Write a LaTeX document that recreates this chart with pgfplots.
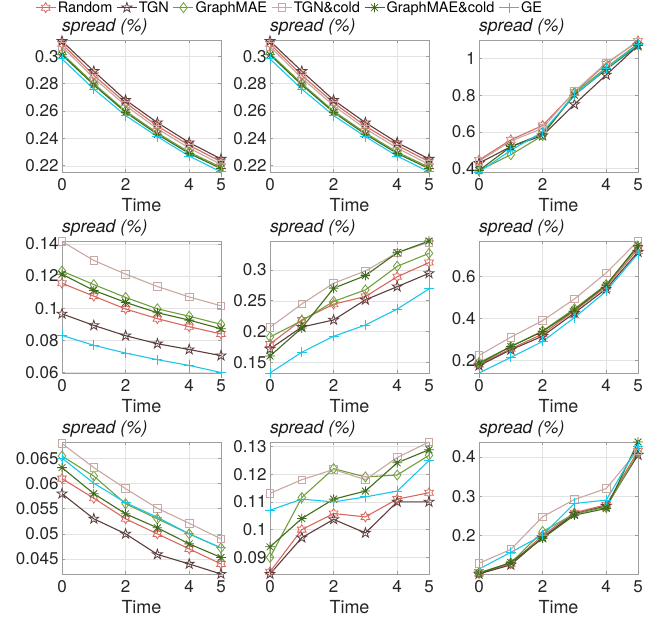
\documentclass[border=0pt]{standalone}
\usepackage{fontspec}
\setmainfont{TeX Gyre Heros}
\usepackage{pgfplots}
\pgfplotsset{compat=1.18}
\usepackage{pgfplotstable}

\definecolor{cR}{RGB}{217,105,95}
\definecolor{cT}{RGB}{92,62,62}
\definecolor{cG}{RGB}{112,160,60}
\definecolor{cTC}{RGB}{200,168,163}
\definecolor{cGC}{RGB}{62,108,25}
\definecolor{cGE}{RGB}{25,200,232}

\pgfdeclareplotmark{hexagram}{%
 \pgfpathmoveto{\pgfpointpolar{90}{\pgfplotmarksize}}%
 \pgfpathlineto{\pgfpointpolar{120}{0.577\pgfplotmarksize}}%
 \pgfpathlineto{\pgfpointpolar{150}{\pgfplotmarksize}}%
 \pgfpathlineto{\pgfpointpolar{180}{0.577\pgfplotmarksize}}%
 \pgfpathlineto{\pgfpointpolar{210}{\pgfplotmarksize}}%
 \pgfpathlineto{\pgfpointpolar{240}{0.577\pgfplotmarksize}}%
 \pgfpathlineto{\pgfpointpolar{270}{\pgfplotmarksize}}%
 \pgfpathlineto{\pgfpointpolar{300}{0.577\pgfplotmarksize}}%
 \pgfpathlineto{\pgfpointpolar{330}{\pgfplotmarksize}}%
 \pgfpathlineto{\pgfpointpolar{0}{0.577\pgfplotmarksize}}%
 \pgfpathlineto{\pgfpointpolar{30}{\pgfplotmarksize}}%
 \pgfpathlineto{\pgfpointpolar{60}{0.577\pgfplotmarksize}}%
 \pgfpathclose\pgfusepathqstroke}
\pgfdeclareplotmark{pentagram}{%
 \pgfpathmoveto{\pgfpointpolar{90}{\pgfplotmarksize}}%
 \pgfpathlineto{\pgfpointpolar{126}{0.382\pgfplotmarksize}}%
 \pgfpathlineto{\pgfpointpolar{162}{\pgfplotmarksize}}%
 \pgfpathlineto{\pgfpointpolar{198}{0.382\pgfplotmarksize}}%
 \pgfpathlineto{\pgfpointpolar{234}{\pgfplotmarksize}}%
 \pgfpathlineto{\pgfpointpolar{270}{0.382\pgfplotmarksize}}%
 \pgfpathlineto{\pgfpointpolar{306}{\pgfplotmarksize}}%
 \pgfpathlineto{\pgfpointpolar{342}{0.382\pgfplotmarksize}}%
 \pgfpathlineto{\pgfpointpolar{18}{\pgfplotmarksize}}%
 \pgfpathlineto{\pgfpointpolar{54}{0.382\pgfplotmarksize}}%
 \pgfpathclose\pgfusepathqstroke}
\pgfdeclareplotmark{asteight}{%
 \pgfpathmoveto{\pgfpointpolar{0}{\pgfplotmarksize}}\pgfpathlineto{\pgfpointpolar{180}{\pgfplotmarksize}}%
 \pgfpathmoveto{\pgfpointpolar{45}{\pgfplotmarksize}}\pgfpathlineto{\pgfpointpolar{225}{\pgfplotmarksize}}%
 \pgfpathmoveto{\pgfpointpolar{90}{\pgfplotmarksize}}\pgfpathlineto{\pgfpointpolar{270}{\pgfplotmarksize}}%
 \pgfpathmoveto{\pgfpointpolar{135}{\pgfplotmarksize}}\pgfpathlineto{\pgfpointpolar{315}{\pgfplotmarksize}}%
 \pgfusepathqstroke}

\pgfplotsset{
 sR/.style={cR, line width=1.1pt, mark=hexagram, mark size=5pt, mark options={solid, line width=0.8pt}},
 sT/.style={cT, line width=1.1pt, mark=pentagram, mark size=5.2pt, mark options={solid, line width=0.8pt}},
 sG/.style={cG, line width=1.1pt, mark=diamond, mark size=5pt, mark options={solid, line width=0.8pt}},
 sTC/.style={cTC, line width=1.1pt, mark=square, mark size=3.8pt, mark options={solid, line width=0.8pt}},
 sGC/.style={cGC, line width=1.1pt, mark=asteight, mark size=4.8pt, mark options={solid, line width=0.8pt}},
 sGE/.style={cGE, line width=1.1pt, mark=+, mark size=5pt, mark options={solid, line width=0.9pt}},
 panel/.style={
  scale only axis, width=159pt, height=132pt, anchor=south west,
  xmin=0, xmax=5, xtick={0,2,4,5},
  grid=major, major grid style={black!11, line width=0.6pt},
  axis line style={black!38, line width=0.7pt},
  tick style={black!38, line width=0.7pt}, major tick length=3pt, tick align=inside,
  ticklabel style={font=\fontsize{17}{19}\selectfont, text=black!85},
  /pgf/number format/assume math mode=true,
  /pgf/number format/fixed, /pgf/number format/precision=3,
  scaled y ticks=false,
  xticklabel style={yshift=-3pt},
  xlabel={Time}, xlabel style={font=\fontsize{18}{20}\selectfont, text=black!85, yshift=-1pt},
  title={spread (\%)}, title style={at={(0,1)}, anchor=south west, inner sep=0pt, yshift=-1.2pt, font=\fontsize{17.5}{19}\selectfont\itshape, text=black!90},
  clip=false,
 },
}

\pgfplotstableread{
x R T G TC GC GE
0 0.309 0.311 0.302 0.307 0.301 0.298
1 0.286 0.289 0.280 0.284 0.279 0.276
2 0.266 0.268 0.260 0.264 0.259 0.2567
3 0.249 0.2515 0.244 0.247 0.243 0.2413
4 0.235 0.237 0.230 0.233 0.229 0.2271
5 0.223 0.225 0.219 0.221 0.218 0.2156
}\dA
\pgfplotstableread{
x R T G TC GC GE
0 0.447 0.43 0.39 0.44 0.39 0.382
1 0.557 0.52 0.476 0.55 0.52 0.50
2 0.635 0.58 0.58 0.62 0.59 0.60
3 0.815 0.75 0.81 0.82 0.80 0.80
4 0.97 0.91 0.95 0.975 0.94 0.945
5 1.095 1.07 1.08 1.09 1.07 1.075
}\dC
\pgfplotstableread{
x R T G TC GC GE
0 0.1155 0.0965 0.1231 0.1415 0.1211 0.0831
1 0.1075 0.0893 0.1147 0.1297 0.1111 0.0769
2 0.0995 0.0829 0.1067 0.1212 0.1036 0.0721
3 0.0935 0.0779 0.0996 0.1135 0.0972 0.0680
4 0.0885 0.0743 0.0950 0.1070 0.0926 0.0644
5 0.0840 0.0705 0.0900 0.1015 0.0872 0.0600
}\dD
\pgfplotstableread{
x R T G TC GC GE
0 0.180 0.172 0.1914 0.207 0.1605 0.133
1 0.219 0.2075 0.2177 0.245 0.206 0.1667
2 0.2446 0.219 0.249 0.2785 0.2704 0.1925
3 0.257 0.2516 0.2677 0.2984 0.2909 0.2108
4 0.289 0.273 0.306 0.328 0.328 0.2366
5 0.312 0.2946 0.327 0.345 0.347 0.2694
}\dE
\pgfplotstableread{
x R T G TC GC GE
0 0.180 0.175 0.190 0.2236 0.184 0.140
1 0.255 0.250 0.265 0.310 0.266 0.214
2 0.325 0.315 0.340 0.389 0.337 0.290
3 0.435 0.425 0.445 0.4913 0.439 0.403
4 0.550 0.540 0.560 0.6157 0.557 0.529
5 0.730 0.715 0.740 0.767 0.746 0.707
}\dF
\pgfplotstableread{
x R T G TC GC GE
0 0.0610 0.0580 0.0655 0.0680 0.0632 0.0651
1 0.0571 0.0530 0.0615 0.0632 0.0580 0.0601
2 0.0530 0.0500 0.0560 0.0590 0.0540 0.0562
3 0.0500 0.0459 0.0530 0.0551 0.0512 0.0533
4 0.0470 0.0440 0.0500 0.0521 0.0480 0.0500
5 0.0440 0.0420 0.0472 0.0490 0.0453 0.0472
}\dG
\pgfplotstableread{
x R T G TC GC GE
0 0.0848 0.0840 0.0900 0.1131 0.0938 0.1070
1 0.1000 0.0971 0.1116 0.1180 0.1040 0.1110
2 0.1058 0.1037 0.1220 0.1217 0.1110 0.1100
3 0.1046 0.0988 0.1190 0.1180 0.1139 0.1118
4 0.1110 0.1100 0.1197 0.1260 0.1241 0.1139
5 0.1133 0.1100 0.1268 0.1316 0.1288 0.1249
}\dH
\pgfplotstableread{
x R T G TC GC GE
0 0.103 0.102 0.105 0.129 0.1034 0.1144
1 0.128 0.125 0.130 0.1644 0.131 0.157
2 0.200 0.195 0.210 0.2475 0.1924 0.2008
3 0.258 0.255 0.255 0.2915 0.2517 0.2814
4 0.278 0.275 0.272 0.3195 0.2686 0.290
5 0.415 0.405 0.410 0.417 0.438 0.427
}\dI

\newcommand{\allplots}[1]{%
 \addplot[sR] table[x=x,y=R]{#1};
 \addplot[sT] table[x=x,y=T]{#1};
 \addplot[sG] table[x=x,y=G]{#1};
 \addplot[sTC] table[x=x,y=TC]{#1};
 \addplot[sGC] table[x=x,y=GC]{#1};
 \addplot[sGE] table[x=x,y=GE]{#1};
}

\begin{document}
\begin{tikzpicture}
\path[use as bounding box] (0,0) rectangle (655pt,622pt);
% row 1
\begin{axis}[panel, at={(62pt,450pt)}, ymin=0.2155, ymax=0.3118, ytick={0.22,0.24,0.26,0.28,0.3},
 legend style={at={(axis description cs:-0.17,1.245)}, anchor=west, draw=none, fill=none,
  legend columns=6, font=\fontsize{14.5}{15}\selectfont, inner sep=0pt,
  nodes={inner xsep=1.5pt, inner ysep=0pt},
  /tikz/every even column/.append style={column sep=2.5pt}},
 legend image code/.code={\draw[#1, mark repeat=2, mark phase=2] plot coordinates {(0pt,0pt) (10pt,0pt) (20pt,0pt)};}]
\allplots{\dA}
\legend{Random,TGN,GraphMAE,TGN\&cold,GraphMAE\&cold,GE}
\end{axis}
\begin{axis}[panel, at={(270pt,450pt)}, ymin=0.2155, ymax=0.3118, ytick={0.22,0.24,0.26,0.28,0.3}]
\allplots{\dA}
\end{axis}
\begin{axis}[panel, at={(479pt,450pt)}, ymin=0.382, ymax=1.1, ytick={0.4,0.6,0.8,1}]
\allplots{\dC}
\end{axis}
% row 2
\begin{axis}[panel, at={(62pt,249pt)}, ymin=0.0597, ymax=0.1418, ytick={0.06,0.08,0.1,0.12,0.14}]
\allplots{\dD}
\end{axis}
\begin{axis}[panel, at={(270pt,249pt)}, ymin=0.133, ymax=0.347, ytick={0.15,0.2,0.25,0.3}]
\allplots{\dE}
\end{axis}
\begin{axis}[panel, at={(479pt,249pt)}, ymin=0.14, ymax=0.767, ytick={0.2,0.4,0.6}]
\allplots{\dF}
\end{axis}
% row 3
\begin{axis}[panel, at={(62pt,48pt)}, ymin=0.042, ymax=0.0683, ytick={0.045,0.05,0.055,0.06,0.065}]
\allplots{\dG}
\end{axis}
\begin{axis}[panel, at={(270pt,48pt)}, ymin=0.084, ymax=0.1316, ytick={0.09,0.1,0.11,0.12,0.13}]
\allplots{\dH}
\end{axis}
\begin{axis}[panel, at={(479pt,48pt)}, ymin=0.1017, ymax=0.438, ytick={0.2,0.3,0.4}]
\allplots{\dI}
\end{axis}
\end{tikzpicture}
\end{document}
